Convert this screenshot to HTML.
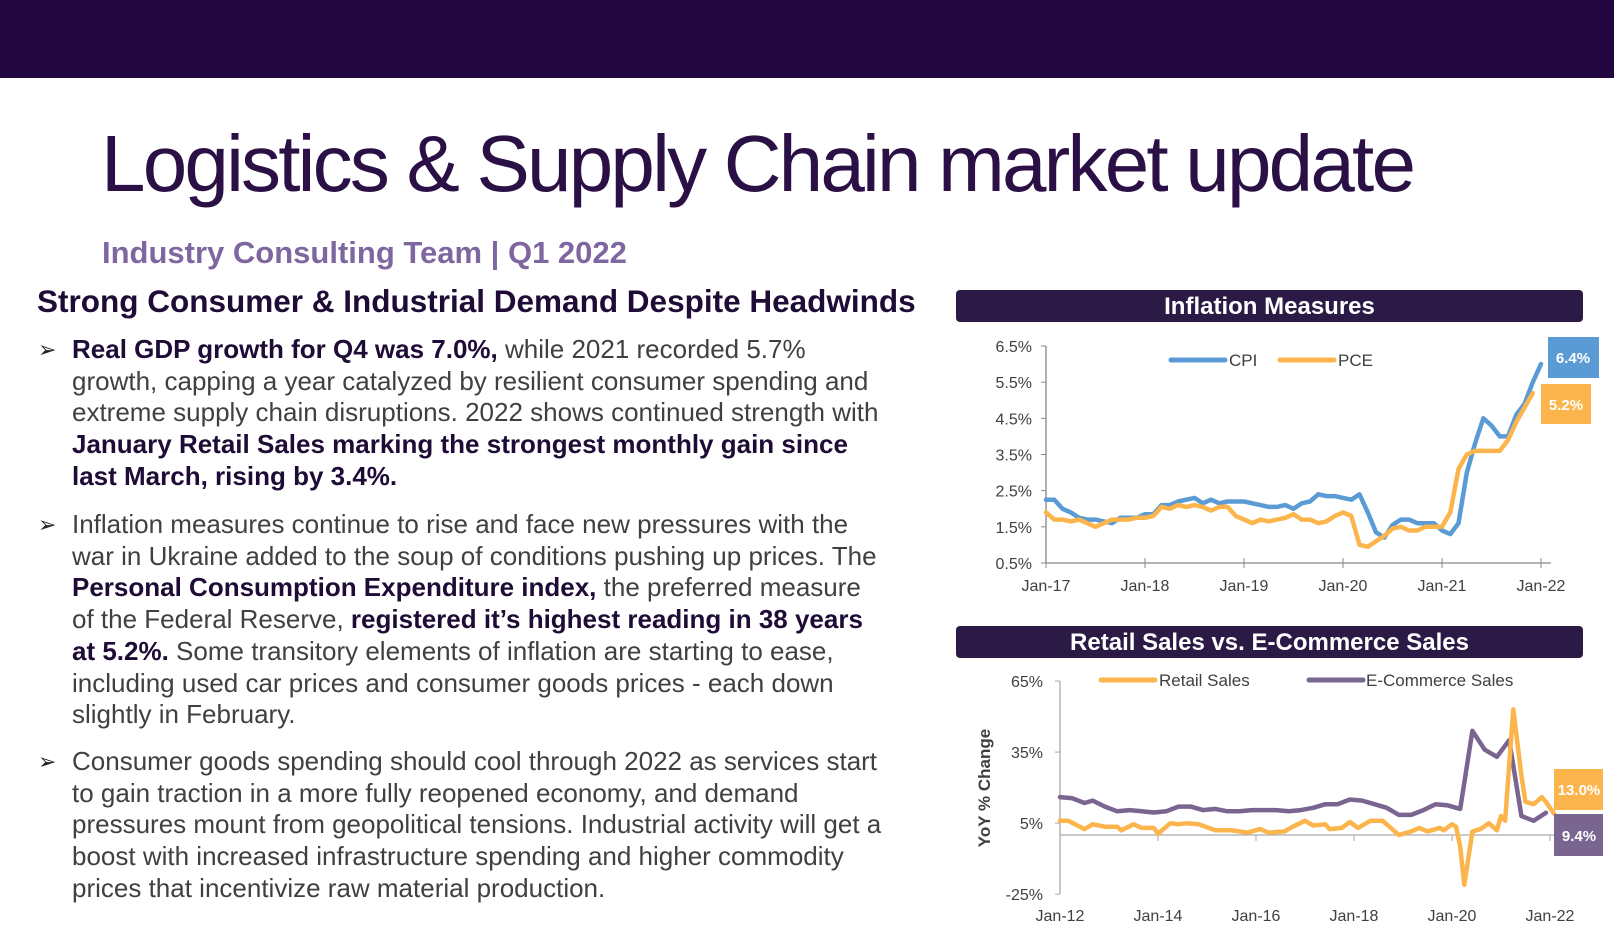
<!DOCTYPE html>
<html><head><meta charset="utf-8">
<style>
body{margin:0;width:1614px;height:934px;overflow:hidden;background:#fff;font-family:"Liberation Sans",Arial,sans-serif;position:relative}
.abs{position:absolute}
#topbar{left:0;top:0;width:1614px;height:78px;background:#22063f}
#title{left:101px;top:118px;font-size:80px;color:#2a1045;letter-spacing:-2.8px;white-space:nowrap}
#sub{left:102px;top:235px;font-size:31px;font-weight:bold;color:#7e66a0;white-space:nowrap}
#head{left:37px;top:283px;font-size:31.5px;font-weight:bold;color:#1e0c36;white-space:nowrap}
.bul{left:38px;font-size:26px;line-height:31.7px;color:#404040;white-space:nowrap}
.bul .arr{position:absolute;left:0;top:0;font-size:22px;color:#222}
.bul .txt{position:absolute;left:34px;top:0}
.bul b{color:#1e0c36}
.hdr{left:956px;width:627px;height:32px;background:#2a1a45;border-radius:4px;color:#fff;font-weight:bold;font-size:24px;text-align:center;line-height:33px}
</style></head><body>
<div class="abs" id="topbar"></div>
<div class="abs" id="title">Logistics &amp; Supply Chain market update</div>
<div class="abs" id="sub">Industry Consulting Team | Q1 2022</div>
<div class="abs" id="head">Strong Consumer &amp; Industrial Demand Despite Headwinds</div>

<div class="abs bul" style="top:334px"><span class="arr">➢</span><div class="txt"><b>Real GDP growth for Q4 was 7.0%,</b> while 2021 recorded 5.7%<br>growth, capping a year catalyzed by resilient consumer spending and<br>extreme supply chain disruptions. 2022 shows continued strength with<br><b>January Retail Sales marking the strongest monthly gain since<br>last March, rising by 3.4%.</b></div></div>
<div class="abs bul" style="top:509px"><span class="arr">➢</span><div class="txt">Inflation measures continue to rise and face new pressures with the<br>war in Ukraine added to the soup of conditions pushing up prices. The<br><b>Personal Consumption Expenditure index,</b> the preferred measure<br>of the Federal Reserve, <b>registered it’s highest reading in 38 years<br>at 5.2%.</b> Some transitory elements of inflation are starting to ease,<br>including used car prices and consumer goods prices - each down<br>slightly in February.</div></div>
<div class="abs bul" style="top:746px"><span class="arr">➢</span><div class="txt">Consumer goods spending should cool through 2022 as services start<br>to gain traction in a more fully reopened economy, and demand<br>pressures mount from geopolitical tensions. Industrial activity will get a<br>boost with increased infrastructure spending and higher commodity<br>prices that incentivize raw material production.</div></div>

<div class="abs hdr" style="top:290px">Inflation Measures</div>
<div class="abs hdr" style="top:626px">Retail Sales vs. E-Commerce Sales</div>

<svg class="abs" style="left:0;top:0" width="1614" height="934" id="charts"></svg>
<script>
// Chart 1 data (monthly, Jan-17 onward)
const cpiValues=[2.25,2.25,2.0,1.9,1.75,1.7,1.7,1.65,1.6,1.75,1.75,1.75,
1.85,1.85,2.1,2.1,2.2,2.25,2.3,2.15,2.25,2.15,2.2,2.2,
2.2,2.15,2.1,2.05,2.05,2.1,2.0,2.15,2.2,2.4,2.35,2.35,
2.3,2.25,2.4,1.9,1.35,1.2,1.55,1.7,1.7,1.6,1.6,1.6,
1.4,1.3,1.6,3.0,3.8,4.5,4.3,4.0,4.0,4.6,4.9,5.5,6.0];
const pceValues=[1.9,1.7,1.7,1.65,1.7,1.6,1.5,1.6,1.7,1.7,1.7,1.75,
1.75,1.8,2.05,2.0,2.1,2.05,2.1,2.05,1.95,2.05,2.05,1.8,
1.7,1.6,1.7,1.65,1.7,1.75,1.85,1.7,1.7,1.6,1.65,1.8,
1.9,1.8,1.0,0.95,1.1,1.25,1.45,1.5,1.4,1.4,1.5,1.5,
1.5,1.9,3.1,3.5,3.6,3.6,3.6,3.6,3.9,4.4,4.8,5.2];
const infTicks=[0.5,1.5,2.5,3.5,4.5,5.5,6.5];
const infXLabels=["Jan-17","Jan-18","Jan-19","Jan-20","Jan-21","Jan-22"];
const infEndLabels=["6.4%","5.2%"];
// Chart 2 data (month index from Jan-12, value %)
const retailMonths=[0,2,6,8,11,14,15,18,20,23,24,27,29,31,34,38,42,46,49,51,55,57,60,62,65,66,69,71,73,76,79,81,83,86,88,90,93,94,96,97,98,99,101,103,105,107,108,109,111,113,114,116,118,119,121];
const retailValues=[6,6,2.5,4.5,3.5,3.5,2,4.5,3,3,0.5,5,4.5,5,4.5,2,2,1,2.5,1,1.5,3.5,6,4,4.5,2.5,3,5.5,3,6,6,3,0,1.5,3,1.5,3,2,4.5,3.5,-5,-21,1.5,2.5,5,2,8,6,53,25,14,13,16,14,9];
const ecomMonths=[0,3,6,8,11,14,17,20,23,26,29,32,35,38,41,44,47,50,53,56,59,62,65,68,71,74,77,80,83,86,89,92,95,98,101,104,107,110,113,116,119];
const ecomValues=[16,15.5,13.5,14.5,12,10,10.5,10,9.5,10,12,12,10.5,11,10,10,10.5,10.5,10.5,10,10.5,11.5,13,13,15,14.5,13,11.5,8.5,8.5,10.5,13,12.5,11,44,36,33,40,8,6,9.4];
const retTicks=[-25,5,35,65];
const retXLabels=["Jan-12","Jan-14","Jan-16","Jan-18","Jan-20","Jan-22"];
const retEndLabels=["13.0%","9.4%"];
</script>
<script>
const NS="http://www.w3.org/2000/svg";
const svg=document.getElementById('charts');
function mk(tag,attrs,parent){const e=document.createElementNS(NS,tag);for(const k in attrs)e.setAttribute(k,attrs[k]);(parent||svg).appendChild(e);return e;}
function txt(x,y,s,attrs){const e=mk('text',Object.assign({x:x,y:y,'font-family':'Liberation Sans, Arial, sans-serif','font-size':16,fill:'#404040'},attrs||{}));e.textContent=s;return e;}

// ---- Chart 1
const ax1=m=>1046+m*(1541-1046)/60;
const ay1=v=>563-(v-0.5)*(563-346)/6;
mk('line',{x1:1046,y1:346,x2:1046,y2:563,stroke:'#888','stroke-width':1.3});
mk('line',{x1:1046,y1:563,x2:1551,y2:563,stroke:'#888','stroke-width':1.3});
infTicks.forEach(v=>{mk('line',{x1:1041,x2:1046,y1:ay1(v),y2:ay1(v),stroke:'#888'});
 const t=txt(1032,ay1(v)+6,v.toFixed(1)+'%',{'text-anchor':'end'});
 
 });
infXLabels.forEach((s,i)=>{const x=ax1(i*12);mk('line',{x1:x,x2:x,y1:558,y2:568,stroke:'#888'});
 const t=txt(x,591,s,{'text-anchor':'middle'});
 
 });
function line(vals,xf,yf,color,w,name,months){
 const d=vals.map((v,i)=>(i?'L':'M')+xf(months?months[i]:i).toFixed(1)+','+yf(v).toFixed(1)).join('');
 const p=mk('path',{d:d,fill:'none',stroke:color,'stroke-width':w,'stroke-linejoin':'round','stroke-linecap':'round'});
 
 
 return p;}
line(cpiValues,ax1,ay1,'#5b9bd5',4.5,'cpi-line');
line(pceValues,ax1,ay1,'#fbb54c',4.5,'pce-line');
mk('line',{x1:1171,x2:1225,y1:360,y2:360,stroke:'#5b9bd5','stroke-width':5,'stroke-linecap':'round'});
txt(1229,366,'CPI',{'font-size':17});
mk('line',{x1:1280,x2:1334,y1:360,y2:360,stroke:'#fbb54c','stroke-width':5,'stroke-linecap':'round'});
txt(1338,366,'PCE',{'font-size':17});
const b1=mk('rect',{x:1548,y:337,width:51,height:41,fill:'#5b9bd5'});


txt(1573,363,infEndLabels[0],{'text-anchor':'middle',fill:'#fff','font-weight':'bold','font-size':15});
const b2=mk('rect',{x:1541,y:384,width:50,height:40,fill:'#fbb54c'});


txt(1566,410,infEndLabels[1],{'text-anchor':'middle',fill:'#fff','font-weight':'bold','font-size':15});

// ---- Chart 2
const ax2=m=>1060+m*(1550-1060)/120;
const ay2=v=>835-v*(835-681)/65;
mk('line',{x1:1060,y1:681,x2:1060,y2:894,stroke:'#aaa','stroke-width':1.3});
mk('line',{x1:1060,y1:ay2(0),x2:1555,y2:ay2(0),stroke:'#aaa','stroke-width':1.3});
retTicks.forEach(v=>{mk('line',{x1:1055,x2:1060,y1:ay2(v),y2:ay2(v),stroke:'#aaa'});
 const t=txt(1043,ay2(v)+6,v+'%',{'text-anchor':'end'});
 
 });
retXLabels.forEach((s,i)=>{const x=ax2(i*24);mk('line',{x1:x,x2:x,y1:ay2(0),y2:ay2(0)+6,stroke:'#aaa'});
 const t=txt(x,921,s,{'text-anchor':'middle'});
 
 });
const yt=txt(0,0,'YoY % Change',{'font-weight':'bold','font-size':17,'text-anchor':'middle',transform:'translate(990,788) rotate(-90)'});


line(ecomValues,ax2,ay2,'#7a6590',4.5,'ecommerce-line',ecomMonths);
line(retailValues,ax2,ay2,'#fbb54c',4.5,'retail-line',retailMonths);
mk('line',{x1:1101,x2:1155,y1:680,y2:680,stroke:'#fbb54c','stroke-width':5,'stroke-linecap':'round'});
txt(1159,686,'Retail Sales',{'font-size':17});
mk('line',{x1:1309,x2:1363,y1:680,y2:680,stroke:'#7a6590','stroke-width':5,'stroke-linecap':'round'});
txt(1366,686,'E-Commerce Sales',{'font-size':17});
const b3=mk('rect',{x:1554,y:769,width:49,height:41,fill:'#fbb54c'});


txt(1579,795,retEndLabels[0],{'text-anchor':'middle',fill:'#fff','font-weight':'bold','font-size':15});
const b4=mk('rect',{x:1554,y:814,width:49,height:42,fill:'#7a6590'});


txt(1579,841,retEndLabels[1],{'text-anchor':'middle',fill:'#fff','font-weight':'bold','font-size':15});
</script>
</body></html>
